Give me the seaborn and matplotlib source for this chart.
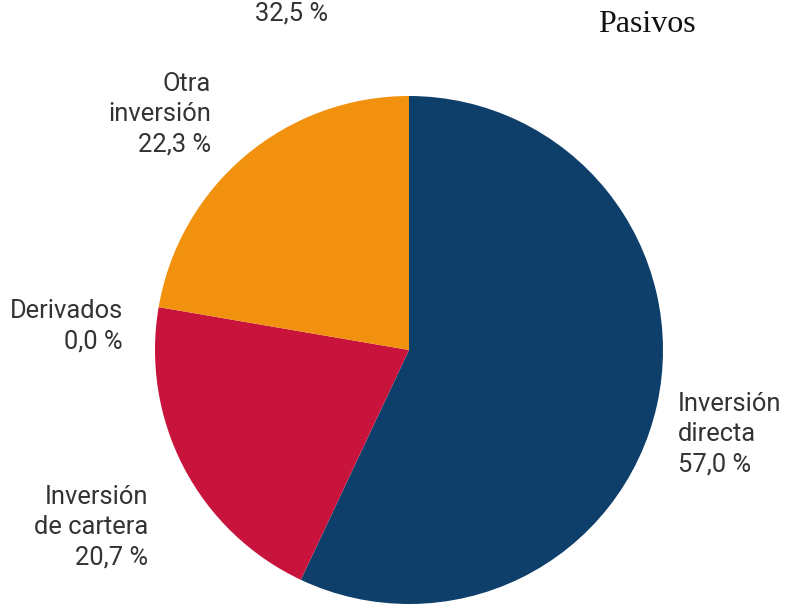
import matplotlib
matplotlib.use("Agg")
import matplotlib.pyplot as plt
import seaborn as sns

# Composition of liabilities (Pasivos), percent
categories = ["Inversión directa", "Inversión de cartera", "Derivados", "Otra inversión"]
label_lines = [["Inversión", "directa"], ["Inversión", "de cartera"], ["Derivados"], ["Otra", "inversión"]]
values = [57.0, 20.7, 0.0, 22.3]
colors = ["#0E3F6B", "#C8133C", "#8E2A5C", "#F1910E"]
title = "Pasivos"
stray_value = 32.5

sns.set_theme(style="white")
plt.rcParams["font.family"] = ["Roboto", "DejaVu Sans"]

W, H = 786, 607
fig = plt.figure(figsize=(W / 100, H / 100), dpi=100)

cx, cy, r = 409, 350, 254
ax = fig.add_axes([(cx - r) / W, (H - cy - r) / H, 2 * r / W, 2 * r / H])
ax.pie(values, colors=colors, startangle=90, counterclock=False, radius=1,
       wedgeprops=dict(linewidth=0))
ax.set_xlim(-1, 1)
ax.set_ylim(-1, 1)
ax.set_aspect("equal")
ax.axis("off")


def pct(v):
    return f"{v:.1f} %".replace(".", ",")


def px(x, y):
    return x / W, 1 - y / H


text_kw = dict(fontsize=18.4, color="#333333", linespacing=1.33, va="center")

# label anchors (x, vertical centre, horizontal alignment)
anchors = [(678, 434, "left"), (148, 527, "right"), (123, 326, "right"), (211, 114, "right")]
for lines, v, (x, y, ha) in zip(label_lines, values, anchors):
    fig.text(*px(x, y), "\n".join(lines + [pct(v)]), ha=ha,
             multialignment=ha, **text_kw)

fig.text(*px(292, 13), pct(stray_value), ha="center", **text_kw)
fig.text(*px(647, 25), title, ha="center", va="center", fontsize=23,
         color="#111111", family=["Liberation Serif", "DejaVu Serif"])

fig.savefig("out.png", dpi=100, facecolor="white")
